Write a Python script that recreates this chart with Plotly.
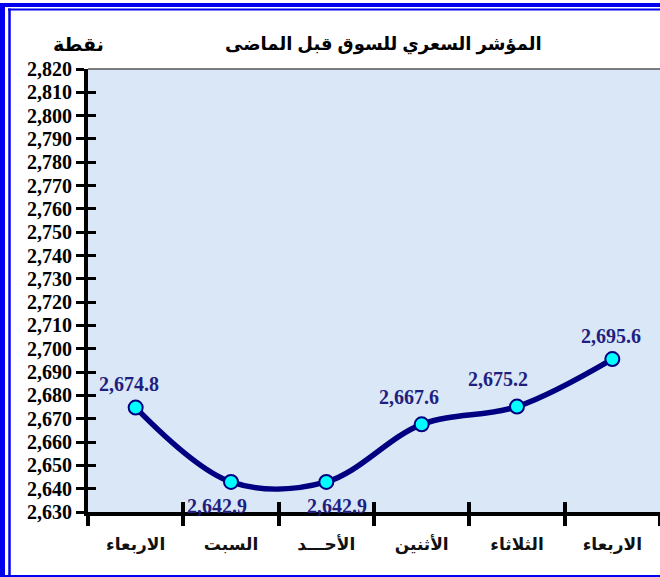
import plotly.graph_objects as go

# ---- data ----
days = ["الاربعاء", "السبت", "الأحـــد", "الأثنين", "الثلاثاء", "الاربعاء"]
values = [2674.8, 2642.9, 2642.9, 2667.6, 2675.2, 2695.6]
value_labels = ["2,674.8", "2,642.9", "2,642.9", "2,667.6", "2,675.2", "2,695.6"]
y_ticks = list(range(2630, 2821, 10))

# label offsets in px (style)
label_dx = [-7, -14, 11, -13, -19, -1]
label_dy = [24, -24, -24, 27, 28, 23]

x_idx = list(range(len(days)))
bounds = [i - 0.5 for i in range(len(days) + 1)]

NAVY = "#000080"
LABEL = "#1F1F80"
serif = "Liberation Serif, Times New Roman, DejaVu Serif, serif"
arab = "Liberation Serif, DejaVu Sans, serif"

fig = go.Figure()
fig.add_trace(go.Scatter(
    x=x_idx, y=values, mode="lines+markers",
    line=dict(color=NAVY, width=5.5, shape="spline", smoothing=1.0),
    marker=dict(size=14, color="#00FFFF", line=dict(color=NAVY, width=2)),
    hoverinfo="skip", showlegend=False,
))
fig.add_trace(go.Scatter(x=x_idx, y=values, xaxis="x2", yaxis="y2", mode="markers",
                         marker=dict(opacity=0), hoverinfo="skip", showlegend=False))

for i, (v, t) in enumerate(zip(values, value_labels)):
    fig.add_annotation(x=i, y=v, text=f"<b>{t}</b>", showarrow=False,
                       xshift=label_dx[i], yshift=label_dy[i],
                       xanchor="center", yanchor="middle",
                       font=dict(family=serif, size=20, color=LABEL))

xr = [-0.5, len(days) - 0.5]
yr = [2630, 2820]
fig.update_layout(
    width=660, height=577,
    margin=dict(l=88, r=0, t=69, b=65, autoexpand=False),
    paper_bgcolor="white", plot_bgcolor="#dae7f7",
    xaxis=dict(range=xr, tickvals=x_idx, ticktext=[f"<b>{d}</b>" for d in days],
               ticks="", showgrid=False, zeroline=False, automargin=False,
               showline=True, linecolor="black", linewidth=4,
               tickfont=dict(family=arab, size=17, color="#111"),
               ticklabelstandoff=14,
               minor=dict(tickvals=bounds, ticks="outside", ticklen=10, tickwidth=4, tickcolor="black")),
    xaxis2=dict(range=xr, overlaying="x", anchor="y", side="bottom", tickvals=bounds,
                ticks="inside", ticklen=10, tickwidth=4, tickcolor="black", automargin=False,
                showticklabels=False, showgrid=False, zeroline=False, showline=False),
    yaxis=dict(range=yr, tickvals=y_ticks, tickformat=",d",
               ticks="outside", ticklen=8, tickwidth=3, tickcolor="black",
               showgrid=False, zeroline=False, showline=True, linecolor="black", linewidth=4,
               tickfont=dict(family=serif, size=20, color="black", weight="bold"),
               ticklabelstandoff=0, automargin=False),
    yaxis2=dict(range=yr, overlaying="y", anchor="x", side="left", tickvals=y_ticks,
                ticks="inside", ticklen=8, tickwidth=3, tickcolor="black", automargin=False,
                showticklabels=False, showgrid=False, zeroline=False, showline=False),
)

def px(xp):
    return (xp - 88) / 572
def py(yp):
    return (512 - yp) / 443

fig.add_annotation(xref="paper", yref="paper", x=px(383), y=py(45),
                   xanchor="center", yanchor="middle",
                   text="<b>المؤشر السعري للسوق قبل الماضى</b>", showarrow=False,
                   font=dict(family="Liberation Sans, DejaVu Sans, Arial", size=18, color="black"))
fig.add_annotation(xref="paper", yref="paper", x=px(78), y=py(45),
                   xanchor="center", yanchor="middle",
                   text="<b>نقطة</b>", showarrow=False,
                   font=dict(family=arab, size=19, color="black"))

BLUE = "#0000EE"
shapes = [
    dict(type="line", xref="paper", yref="paper", x0=0, x1=1, y0=1, y1=1, line=dict(color="#555555", width=1.5)),
    dict(type="line", xref="paper", yref="paper", x0=px(0), x1=px(660), y0=py(5), y1=py(5), line=dict(color=BLUE, width=4)),
    dict(type="line", xref="paper", yref="paper", x0=px(8), x1=px(660), y0=py(9.5), y1=py(9.5), line=dict(color=BLUE, width=2)),
    dict(type="line", xref="paper", yref="paper", x0=px(2.5), x1=px(2.5), y0=py(3), y1=py(577), line=dict(color=BLUE, width=5)),
    dict(type="line", xref="paper", yref="paper", x0=px(9.5), x1=px(9.5), y0=py(8.5), y1=py(576), line=dict(color=BLUE, width=2.5)),
    dict(type="line", xref="paper", yref="paper", x0=px(0), x1=px(660), y0=py(576), y1=py(576), line=dict(color=BLUE, width=2)),
]
fig.update_layout(shapes=shapes)

fig.write_html("out.html", config={"displayModeBar": False},
               post_script="document.body.style.margin='0';document.body.style.overflow='hidden';")
